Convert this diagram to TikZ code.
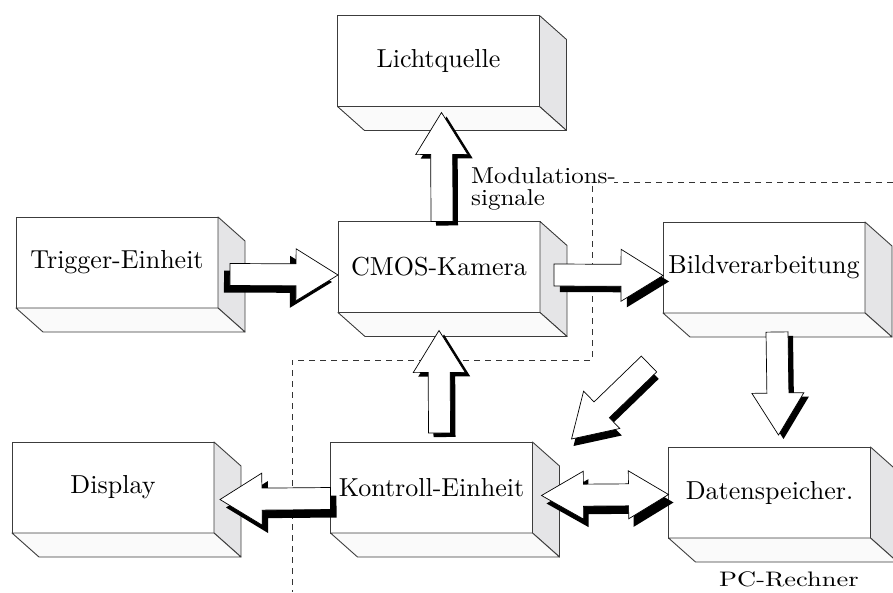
\documentclass[tikz,border=0pt]{standalone}
\usepackage{graphicx}
\usepackage{xcolor}
\usetikzlibrary{calc}

\definecolor{seite}{HTML}{E5E5E7}
\definecolor{boden}{HTML}{FAFAFA}
\definecolor{rand}{HTML}{3C3C3C}

\newcommand{\beschr}[1]{\scalebox{2.6}{#1}}

% block arrow from #1 (tail) to #2 (tip), shadow shifted by #3
\newcommand{\blockpfeil}[3]{%
  \path (#1) coordinate (pA) (#2) coordinate (pB);
  \path ($(pB)!42pt!(pA)$) coordinate (pH);
  \path ($(pA)!11pt!90:(pB)$) coordinate (p1)
        ($(pH)!11pt!90:(pB)$) coordinate (p2)
        ($(pH)!26pt!90:(pB)$) coordinate (p3)
        ($(pH)!26pt!-90:(pB)$) coordinate (p4)
        ($(pH)!11pt!-90:(pB)$) coordinate (p5)
        ($(pA)!11pt!-90:(pB)$) coordinate (p6);
  \fill[pfeilschatten, transform canvas={shift={(#3)}}] (p1) -- (p2) -- (p3) -- (pB) -- (p4) -- (p5) -- (p6) -- cycle;
  \path[pfeil] (p1) -- (p2) -- (p3) -- (pB) -- (p4) -- (p5) -- (p6) -- cycle;
}

% double headed block arrow between #1 and #2
\newcommand{\doppelpfeil}[3]{%
  \path (#1) coordinate (pA) (#2) coordinate (pB);
  \path ($(pA)!42pt!(pB)$) coordinate (pG) ($(pB)!40pt!(pA)$) coordinate (pH);
  \path ($(pG)!24pt!90:(pB)$) coordinate (q1)
        ($(pG)!11pt!90:(pB)$) coordinate (q2)
        ($(pH)!11pt!90:(pB)$) coordinate (q3)
        ($(pH)!24pt!90:(pB)$) coordinate (q4)
        ($(pH)!24pt!-90:(pB)$) coordinate (q5)
        ($(pH)!11pt!-90:(pB)$) coordinate (q6)
        ($(pG)!11pt!-90:(pB)$) coordinate (q7)
        ($(pG)!24pt!-90:(pB)$) coordinate (q8);
  \fill[pfeilschatten, transform canvas={shift={(#3)}}] (pA) -- (q1) -- (q2) -- (q3) -- (q4) -- (pB) -- (q5) -- (q6) -- (q7) -- (q8) -- cycle;
  \path[pfeil] (pA) -- (q1) -- (q2) -- (q3) -- (q4) -- (pB) -- (q5) -- (q6) -- (q7) -- (q8) -- cycle;
}

\tikzset{
  block/.style={draw=rand, line width=0.9pt, fill=white, minimum width=202pt,
    minimum height=91pt, inner sep=0pt, outer sep=0pt},
  seitenflaeche/.style={draw=rand, line width=0.9pt, fill=seite, line join=round},
  bodenflaeche/.style={draw=rand, line width=0.9pt, fill=boden, line join=round},
  pfeil/.style={draw=black, line width=0.7pt, fill=white},
  pfeilschatten/.style={fill=black},
  grenze/.style={draw=black!80, line width=0.7pt, dash pattern=on 6pt off 5pt},
}

\begin{document}
\begin{tikzpicture}[x=1pt, y=-1pt]
\useasboundingbox (0,0) rectangle (893,592);
\clip (0,0) rectangle (893,592);

\node[block] (licht) at (438.5,61) {\beschr{Lichtquelle}};
\node[block] (trig) at (117,262.5) {\beschr{Trigger-Einheit}};
\node[block] (cmos) at (439,267) {\beschr{CMOS-Kamera}};
\node[block] (bild) at (764,267.5) {\beschr{Bildverarbeitung}};
\node[block] (disp) at (113,487.5) {\beschr{Display}};
\node[block] (kont) at (431.5,487.5) {\beschr{Kontroll-Einheit}};
\node[block] (daten) at (769.5,492.5) {\beschr{Datenspeicher.}};

\foreach \b in {licht,trig,cmos,bild,disp,kont,daten} {
  \path[seitenflaeche] (\b.north east) -- ++(27,24) -- ($(\b.south east)+(27,24)$) -- (\b.south east) -- cycle;
  \path[bodenflaeche] (\b.south west) -- ++(27,24) -- ($(\b.south east)+(27,24)$) -- (\b.south east) -- cycle;
}

\node[anchor=north west, align=left, inner sep=0pt, font=\fontsize{10}{22}\selectfont] (modsig) at (471,167)
  {\scalebox{2.5}[2.3]{Modulations-}\\\scalebox{2.5}[2.3]{signale}};
\node[anchor=base west, inner sep=0pt] (pc) at (719,586) {\scalebox{2.64}[2.1]{PC-Rechner}};

\coordinate (g1) at (893,182);
\coordinate (g2) at (614,182);
\coordinate (g3) at (592,186);
\coordinate (g4) at (592,360);
\coordinate (g5) at (292,360);
\coordinate (g6) at (292,592);
\path[grenze] (g1) -- (g2);
\path[grenze] (g3) -- (g4) -- (g5) -- (g6);

\blockpfeil{$(trig.east)+(12,12)$}{$(cmos.west)+(0,8)$}{-6,7}
\blockpfeil{$(cmos.east)+(14,8)$}{$(bild.west)+(0,8)$}{6,6}
\blockpfeil{$(cmos.north)+(3,0)$}{$(licht.south)+(3,6)$}{5,4}
\blockpfeil{$(kont.north)+(8,-9)$}{$(cmos.south)+(0,18)$}{5,4}
\blockpfeil{$(bild.south)+(13,19)$}{$(daten.north)+(9,-12)$}{5,4}
\blockpfeil{$(kont.west)+(0,11)$}{$(disp.east)+(6,12)$}{6,8}
\blockpfeil{$(bild.south west)+(-14,51)$}{$(kont.north east)+(39,-3)$}{2,7}
\doppelpfeil{$(kont.east)+(9,8)$}{$(daten.west)+(0,2)$}{5,8}
\end{tikzpicture}
\end{document}
